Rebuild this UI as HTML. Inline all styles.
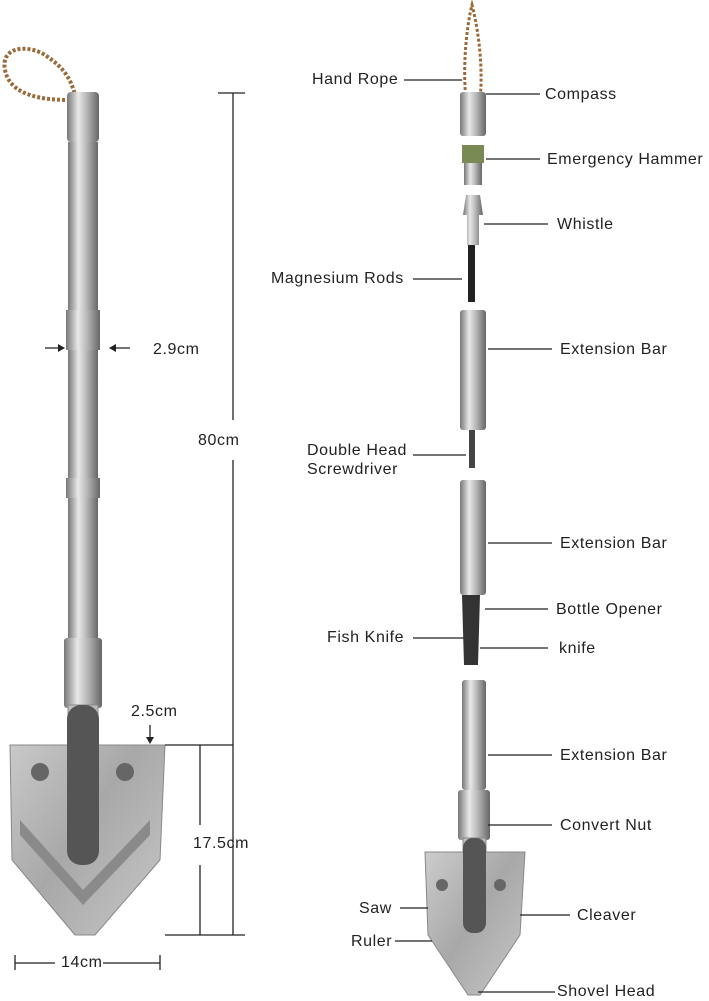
<!DOCTYPE html>
<html><head><meta charset="utf-8"><style>
body{margin:0;width:709px;height:1000px;background:#fff;position:relative;overflow:hidden;font-family:"Liberation Sans",sans-serif;}
.t{position:absolute;font-size:16px;letter-spacing:0.6px;color:#222;white-space:nowrap;line-height:18px}
svg{position:absolute;left:0;top:0}
</style></head><body>
<svg width="709" height="1000" viewBox="0 0 709 1000">
<defs>
<linearGradient id="m" x1="0" x2="1"><stop offset="0" stop-color="#777"/><stop offset=".35" stop-color="#e8e8e8"/><stop offset=".6" stop-color="#bbb"/><stop offset="1" stop-color="#666"/></linearGradient>
<linearGradient id="h" x1="0" x2="1" y1="0" y2="1"><stop offset="0" stop-color="#d0d0d0"/><stop offset=".5" stop-color="#a8a8a8"/><stop offset="1" stop-color="#c8c8c8"/></linearGradient>
</defs>
<path d="M70 100 C40 100 10 95 5 70 C0 45 30 45 45 55 C60 65 70 75 75 95" fill="none" stroke="#9a6a3a" stroke-width="4" stroke-dasharray="3 2"/>
<rect x="67" y="92" width="32" height="50" rx="4" fill="url(#m)"/>
<rect x="68" y="142" width="30" height="170" fill="url(#m)"/>
<rect x="66" y="310" width="34" height="40" fill="url(#m)"/>
<rect x="68" y="350" width="30" height="130" fill="url(#m)"/>
<rect x="66" y="478" width="34" height="20" fill="url(#m)"/>
<rect x="68" y="498" width="30" height="140" fill="url(#m)"/>
<rect x="64" y="638" width="38" height="70" rx="3" fill="url(#m)"/>
<path d="M10 745 L68 745 L68 705 L98 705 L98 745 L165 745 L160 860 L95 935 L75 935 L12 860 Z" fill="url(#h)" stroke="#888"/>
<path d="M20 820 L83 890 L150 820 L150 835 L83 905 L20 835 Z" fill="#8a8a8a"/>
<rect x="67" y="705" width="32" height="160" rx="14" fill="#555"/>
<circle cx="40" cy="772" r="9" fill="#666"/><circle cx="125" cy="772" r="9" fill="#666"/>
<g stroke="#222" stroke-width="1.3" fill="none">
<line x1="233" y1="93" x2="233" y2="420"/><line x1="233" y1="460" x2="233" y2="935"/>
<line x1="218" y1="93" x2="245" y2="93"/>
<line x1="165" y1="745" x2="233" y2="745"/><line x1="165" y1="935" x2="245" y2="935"/>
<line x1="200" y1="745" x2="200" y2="825"/><line x1="200" y1="865" x2="200" y2="935"/>
<line x1="45" y1="348" x2="64" y2="348"/><line x1="110" y1="348" x2="130" y2="348"/>
<line x1="150" y1="725" x2="150" y2="742"/>
<line x1="15" y1="963" x2="55" y2="963"/><line x1="103" y1="963" x2="160" y2="963"/>
<line x1="15" y1="955" x2="15" y2="970"/><line x1="160" y1="955" x2="160" y2="970"/>
</g>
<g fill="#222"><path d="M65 348 l-7 -4 v8z"/><path d="M109 348 l7 -4 v8z"/><path d="M150 744 l-4 -7 h8z"/></g>
<path d="M466 100 C462 60 468 20 472 5 C476 20 484 60 480 100" fill="none" stroke="#9a6a3a" stroke-width="3" stroke-dasharray="3 2"/>
<rect x="460" y="92" width="26" height="44" rx="3" fill="url(#m)"/>
<rect x="462" y="145" width="22" height="18" fill="#7a8a55"/>
<rect x="464" y="163" width="18" height="22" fill="url(#m)"/>
<path d="M466 195 h14 l3 20 h-4 v30 h-12 v-30 h-4z" fill="url(#m)"/>
<rect x="468" y="245" width="7" height="57" fill="#222"/>
<rect x="460" y="310" width="26" height="120" rx="3" fill="url(#m)"/>
<rect x="469" y="430" width="6" height="38" fill="#444"/>
<rect x="460" y="480" width="26" height="115" rx="3" fill="url(#m)"/>
<path d="M462 595 h18 l-2 70 h-14z" fill="#333"/>
<rect x="462" y="680" width="24" height="110" rx="3" fill="url(#m)"/>
<rect x="458" y="790" width="32" height="50" rx="3" fill="url(#m)"/>
<path d="M425 852 L463 852 L463 838 L486 838 L486 852 L525 852 L520 935 L480 995 L468 995 L428 935 Z" fill="url(#h)" stroke="#888"/>
<rect x="463" y="838" width="23" height="95" rx="10" fill="#555"/>
<circle cx="442" cy="885" r="6" fill="#666"/><circle cx="500" cy="885" r="6" fill="#666"/>
<g stroke="#222" stroke-width="1.2">
<line x1="404" y1="80" x2="462" y2="80"/><line x1="486" y1="94" x2="540" y2="94"/>
<line x1="486" y1="159" x2="540" y2="159"/><line x1="484" y1="224" x2="548" y2="224"/>
<line x1="413" y1="279" x2="462" y2="279"/><line x1="488" y1="349" x2="552" y2="349"/>
<line x1="413" y1="455" x2="466" y2="455"/><line x1="488" y1="543" x2="552" y2="543"/>
<line x1="485" y1="609" x2="548" y2="609"/><line x1="413" y1="638" x2="464" y2="638"/>
<line x1="480" y1="648" x2="548" y2="648"/><line x1="488" y1="755" x2="552" y2="755"/>
<line x1="488" y1="825" x2="552" y2="825"/><line x1="400" y1="908" x2="428" y2="908"/>
<line x1="520" y1="915" x2="570" y2="915"/><line x1="395" y1="941" x2="432" y2="941"/>
<line x1="478" y1="992" x2="555" y2="992"/>
</g>
</svg>
<div class="t" style="left:153px;top:341px">2.9cm</div>
<div class="t" style="left:198px;top:432px">80cm</div>
<div class="t" style="left:131px;top:703px">2.5cm</div>
<div class="t" style="left:193px;top:835px">17.5cm</div>
<div class="t" style="left:61px;top:954px">14cm</div>
<div class="t" style="left:312px;top:71px">Hand Rope</div>
<div class="t" style="left:545px;top:86px">Compass</div>
<div class="t" style="left:547px;top:151px">Emergency Hammer</div>
<div class="t" style="left:557px;top:216px">Whistle</div>
<div class="t" style="left:271px;top:270px">Magnesium Rods</div>
<div class="t" style="left:560px;top:341px">Extension Bar</div>
<div class="t" style="left:307px;top:442px">Double Head</div>
<div class="t" style="left:307px;top:461px">Screwdriver</div>
<div class="t" style="left:560px;top:535px">Extension Bar</div>
<div class="t" style="left:556px;top:601px">Bottle Opener</div>
<div class="t" style="left:327px;top:629px">Fish Knife</div>
<div class="t" style="left:559px;top:640px">knife</div>
<div class="t" style="left:560px;top:747px">Extension Bar</div>
<div class="t" style="left:560px;top:817px">Convert Nut</div>
<div class="t" style="left:359px;top:900px">Saw</div>
<div class="t" style="left:577px;top:907px">Cleaver</div>
<div class="t" style="left:351px;top:933px">Ruler</div>
<div class="t" style="left:557px;top:983px">Shovel Head</div>
</body></html>
